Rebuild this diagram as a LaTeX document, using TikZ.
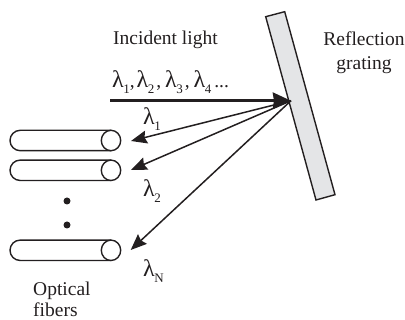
\documentclass[tikz,border=0pt]{standalone}
\usepackage{fontspec}
\setmainfont{Liberation Serif}
\usetikzlibrary{arrows.meta}
\newcommand{\lamsub}[1]{{\fontsize{24}{24}\selectfont λ}\kern-0.5pt\raisebox{-0.3em}{\fontsize{13}{13}\selectfont #1}}
\definecolor{ink}{RGB}{35,31,32}
\definecolor{gratefill}{RGB}{228,229,231}
\tikzset{
  label text/.style={inner sep=0pt,anchor=base,text=ink,font=\fontsize{19.5}{22}\selectfont},
  label west/.style={label text,anchor=base west},
  fiberbody/.style={draw=ink,line width=1.4pt,fill=white,rounded corners=10.2pt},
  fiberend/.style={draw=ink,line width=1.4pt,fill=white},
  ray/.style={draw=ink,line width=1.5pt,-{Stealth[length=16pt,width=13pt,inset=2pt]}},
  beam/.style={draw=ink,line width=3.6pt,-{Stealth[length=18pt,width=16pt,inset=1pt]}},
  pip/.style={circle,fill=ink,minimum size=7pt,inner sep=0pt}
}
\begin{document}
\begin{tikzpicture}[x=1pt,y=-1pt]
\useasboundingbox (0,0) rectangle (405,320);
\draw[draw=ink,fill=gratefill,line width=1.4pt] (265.7,16.7) -- (284.7,11.7) -- (335,194.7) -- (316,200) -- cycle;
\foreach \n/\yy in {a/140.5,b/170.3,c/250.3}{
  \draw[fiberbody] (111,\yy-10.2) -- (10,\yy-10.2) -- (10,\yy+10.2) -- (111,\yy+10.2);
  \draw[fiberend] (111,\yy) ellipse [x radius=9.7,y radius=10.2];
}
\coordinate (beamstart) at (110,100.7);
\coordinate (hit) at (291,100.7);
\coordinate (end1) at (131,141);
\coordinate (end2) at (131,170);
\coordinate (end3) at (130.7,250);
\draw[beam] (beamstart) -- (hit);
\draw[ray] (hit) -- (end1);
\draw[ray] (hit) -- (end2);
\draw[ray] (hit) -- (end3);
\node[pip] (dot1) at (67,201) {};
\node[pip] (dot2) at (67,225) {};
\node[label west] (incident) at (113,45) {Incident light};
\node[label west] (lams) at (112,88) {\lamsub{1},\kern2pt\lamsub{2}\kern2pt,\kern4pt\lamsub{3}\kern2pt,\kern4pt\lamsub{4}\kern3pt ...};
\node[label text] (refl) at (364,46) {Reflection};
\node[label text] (grat) at (364,70) {grating};
\node[label west] (l1) at (143,125) {\lamsub{1}};
\node[label west] (l2) at (143,197) {\lamsub{2}};
\node[label west] (ln) at (143,277) {\lamsub{N}};
\node[label west] (opt) at (33,296) {Optical};
\node[label west] (fib) at (33,316.5) {fibers};
\end{tikzpicture}
\end{document}
